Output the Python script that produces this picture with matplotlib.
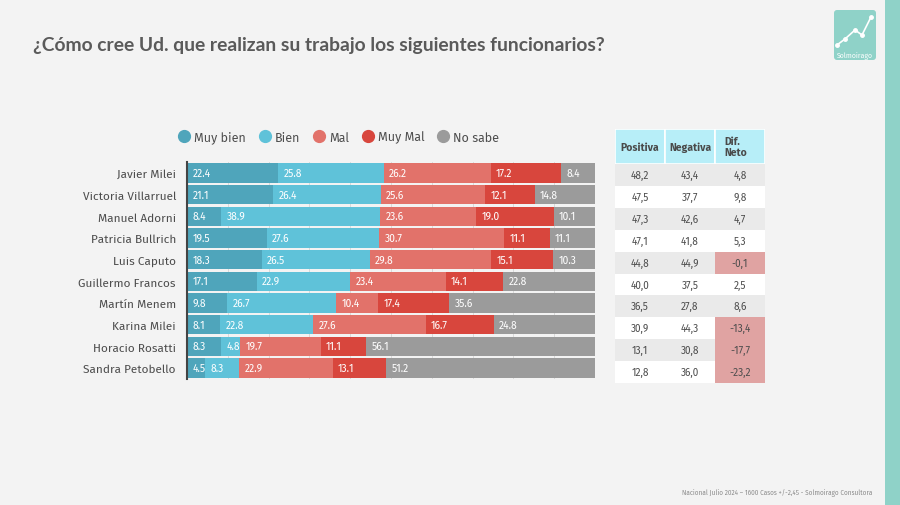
import matplotlib
matplotlib.use("Agg")
import matplotlib.pyplot as plt
from matplotlib.lines import Line2D
from matplotlib.patches import Rectangle, FancyBboxPatch

names = ["Javier Milei", "Victoria Villarruel", "Manuel Adorni", "Patricia Bullrich",
         "Luis Caputo", "Guillermo Francos", "Martín Menem", "Karina Milei",
         "Horacio Rosatti", "Sandra Petobello"]
series_names = ["Muy bien", "Bien", "Mal", "Muy Mal", "No sabe"]
muy_bien = [22.4, 21.1, 8.4, 19.5, 18.3, 17.1, 9.8, 8.1, 8.3, 4.5]
bien = [25.8, 26.4, 38.9, 27.6, 26.5, 22.9, 26.7, 22.8, 4.8, 8.3]
mal = [26.2, 25.6, 23.6, 30.7, 29.8, 23.4, 10.4, 27.6, 19.7, 22.9]
muy_mal = [17.2, 12.1, 19.0, 11.1, 15.1, 14.1, 17.4, 16.7, 11.1, 13.1]
no_sabe = [8.4, 14.8, 10.1, 11.1, 10.3, 22.8, 35.6, 24.8, 56.1, 51.2]

positiva = [48.2, 47.5, 47.3, 47.1, 44.8, 40.0, 36.5, 30.9, 13.1, 12.8]
negativa = [43.4, 37.7, 42.6, 41.8, 44.9, 37.5, 27.8, 44.3, 30.8, 36.0]
dif_neto = [4.8, 9.8, 4.7, 5.3, -0.1, 2.5, 8.6, -13.4, -17.7, -23.2]
table_headers = ["Positiva", "Negativa", "Dif.\nNeto"]

title = "¿Cómo cree Ud. que realizan su trabajo los siguientes funcionarios?"
footer = "Nacional Julio 2024 – 1600 Casos +/-2,45 - Solmoirago Consultora"

colors = ["#4fa5bb", "#5fc2d9", "#e2726a", "#d8463d", "#9b9b9b"]
BG = "#f3f3f3"
TEAL = "#8fd2c8"
TXT = "#4d4d4d"

plt.rcParams["font.family"] = ["Fira Sans", "Noto Sans", "DejaVu Sans"]

W, H = 900, 506
fig = plt.figure(figsize=(9, 5.06), dpi=100, facecolor=BG)

def fx(px):
    return px / W

def fy(py):
    return 1 - py / H

# Title
fig.text(fx(33), fy(46), title, fontsize=13.9, fontweight="bold", color="#5a5a5a",
         family=["Lato", "DejaVu Sans"], va="center", ha="left")

# Right strip
fig.patches.append(Rectangle((fx(885), 0), fx(15), 1, transform=fig.transFigure,
                             facecolor=TEAL, edgecolor="none"))

# Logo
lax = fig.add_axes([fx(833), fy(62), fx(44), 52 / H])
lax.set_xlim(0, 44); lax.set_ylim(0, 52); lax.axis("off")
lax.add_patch(FancyBboxPatch((1, 1), 42, 50, boxstyle="round,pad=0,rounding_size=3",
                             facecolor=TEAL, edgecolor="none"))
lax.plot([4, 12, 22, 29, 38], [16, 22, 31, 26, 44], color="white", lw=1.2,
         marker="o", ms=2.5)
lax.text(22, 6, "Solmoirago", color="white", fontsize=5, ha="center", va="center")

# Bar chart
row_sp = (369 - 174) / 9
top = 174 - row_sp / 2
bot = 369 + row_sp / 2
ax = fig.add_axes([fx(187), fy(bot), fx(595) - fx(187), (bot - top) / H])
ax.set_facecolor(BG)
series = [muy_bien, bien, mal, muy_mal, no_sabe]
ypos = list(range(len(names)))
left = [0.0] * len(names)
for vals, c in zip(series, colors):
    ax.barh(ypos, vals, left=left, height=0.88, color=c, edgecolor="none", zorder=2)
    for i, v in enumerate(vals):
        ax.text(left[i] + 1.3, i, f"{v:.1f}", color="white", fontsize=7.4,
                va="center", ha="left", zorder=3)
    left = [l + v for l, v in zip(left, vals)]
ax.set_xlim(0, 100)
ax.set_ylim(len(names) - 0.5, -0.5)
ax.set_yticks(ypos)
ax.set_yticklabels(names, fontsize=8.5, color=TXT)
ax.tick_params(axis="y", length=0, pad=8)
ax.set_xticks(range(0, 101, 10))
ax.tick_params(axis="x", length=0, labelbottom=False)
ax.grid(axis="x", color="#d5d5d5", lw=0.6, zorder=0)
for s in ["top", "right", "bottom"]:
    ax.spines[s].set_visible(False)
ax.spines["left"].set_color("#444444")
ax.spines["left"].set_linewidth(1.5)

# Legend
handles = [Line2D([], [], marker="o", ls="none", ms=8.5, color=c) for c in colors]
fig.legend(handles, series_names, loc="center", bbox_to_anchor=(fx(338), fy(138)),
           ncol=5, frameon=False, fontsize=9, handletextpad=0.2, columnspacing=0.9,
           handlelength=1.2, labelcolor=TXT)

# Table
tx0, tx1 = 615, 765
ty0, thead, ty1 = 130, 165, 384
tax = fig.add_axes([fx(tx0), fy(ty1), fx(tx1) - fx(tx0), (ty1 - ty0) / H])
tax.set_xlim(tx0, tx1); tax.set_ylim(ty1, ty0); tax.axis("off")
col_w = (tx1 - tx0) / 3
rh = (ty1 - thead) / len(names)
for j, hname in enumerate(table_headers):
    x0 = tx0 + j * col_w
    tax.add_patch(Rectangle((x0, ty0), col_w, thead - ty0, facecolor="#b7eef8",
                            edgecolor="white", lw=1.2))
    tax.text(x0 + col_w / 2 if j < 2 else x0 + 9, (ty0 + thead) / 2, hname,
             fontsize=7.5, fontweight="bold", color="#4a4a4a",
             ha="center" if j < 2 else "left", va="center", linespacing=1.1)
for i in range(len(names)):
    y0 = thead + i * rh
    rowc = "#eaeaea" if i % 2 == 0 else "white"
    vals = [positiva[i], negativa[i], dif_neto[i]]
    for j, v in enumerate(vals):
        x0 = tx0 + j * col_w
        fc = rowc
        if j == 2 and v < 0:
            fc = "#e0a3a2"
        tax.add_patch(Rectangle((x0, y0), col_w, rh, facecolor=fc, edgecolor="none"))
        tax.text(x0 + col_w / 2, y0 + rh / 2, f"{v:.1f}".replace(".", ","),
                 fontsize=7.3, color=TXT, ha="center", va="center")

# Footer
fig.text(fx(872), fy(493), footer, fontsize=4.6, color="#8a8a8a", ha="right", va="center")

fig.savefig("out.png", dpi=100, facecolor=BG)
